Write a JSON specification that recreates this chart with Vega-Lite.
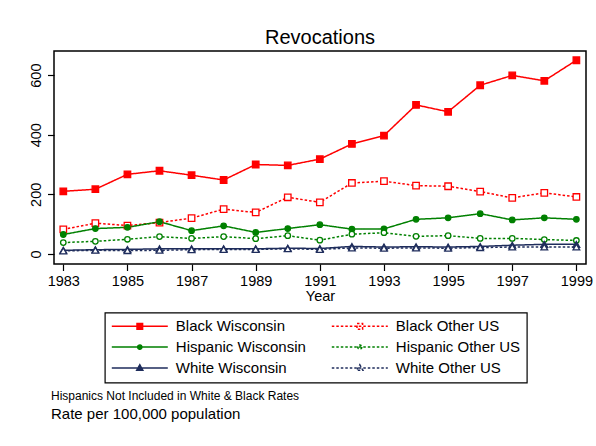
{
  "$schema": "https://vega.github.io/schema/vega-lite/v6.json",
  "background": "white",
  "padding": {"left": 27, "top": 27, "right": 5, "bottom": 5},
  "spacing": 86,
  "datasets": {
    "rates": [
      {"year": 1983, "series": "Black Wisconsin", "race": "Black", "value": 210},
      {"year": 1984, "series": "Black Wisconsin", "race": "Black", "value": 217},
      {"year": 1985, "series": "Black Wisconsin", "race": "Black", "value": 267},
      {"year": 1986, "series": "Black Wisconsin", "race": "Black", "value": 279},
      {"year": 1987, "series": "Black Wisconsin", "race": "Black", "value": 264},
      {"year": 1988, "series": "Black Wisconsin", "race": "Black", "value": 248},
      {"year": 1989, "series": "Black Wisconsin", "race": "Black", "value": 300},
      {"year": 1990, "series": "Black Wisconsin", "race": "Black", "value": 297},
      {"year": 1991, "series": "Black Wisconsin", "race": "Black", "value": 318},
      {"year": 1992, "series": "Black Wisconsin", "race": "Black", "value": 369},
      {"year": 1993, "series": "Black Wisconsin", "race": "Black", "value": 397},
      {"year": 1994, "series": "Black Wisconsin", "race": "Black", "value": 500},
      {"year": 1995, "series": "Black Wisconsin", "race": "Black", "value": 477},
      {"year": 1996, "series": "Black Wisconsin", "race": "Black", "value": 566},
      {"year": 1997, "series": "Black Wisconsin", "race": "Black", "value": 599},
      {"year": 1998, "series": "Black Wisconsin", "race": "Black", "value": 581},
      {"year": 1999, "series": "Black Wisconsin", "race": "Black", "value": 650},
      {"year": 1983, "series": "Black Other US", "race": "Black", "value": 82},
      {"year": 1984, "series": "Black Other US", "race": "Black", "value": 103},
      {"year": 1985, "series": "Black Other US", "race": "Black", "value": 95},
      {"year": 1986, "series": "Black Other US", "race": "Black", "value": 105},
      {"year": 1987, "series": "Black Other US", "race": "Black", "value": 120},
      {"year": 1988, "series": "Black Other US", "race": "Black", "value": 150},
      {"year": 1989, "series": "Black Other US", "race": "Black", "value": 139},
      {"year": 1990, "series": "Black Other US", "race": "Black", "value": 190},
      {"year": 1991, "series": "Black Other US", "race": "Black", "value": 173},
      {"year": 1992, "series": "Black Other US", "race": "Black", "value": 238},
      {"year": 1993, "series": "Black Other US", "race": "Black", "value": 244},
      {"year": 1994, "series": "Black Other US", "race": "Black", "value": 229},
      {"year": 1995, "series": "Black Other US", "race": "Black", "value": 227},
      {"year": 1996, "series": "Black Other US", "race": "Black", "value": 209},
      {"year": 1997, "series": "Black Other US", "race": "Black", "value": 188},
      {"year": 1998, "series": "Black Other US", "race": "Black", "value": 205},
      {"year": 1999, "series": "Black Other US", "race": "Black", "value": 191},
      {"year": 1983, "series": "Hispanic Wisconsin", "race": "Hispanic", "value": 65},
      {"year": 1984, "series": "Hispanic Wisconsin", "race": "Hispanic", "value": 85},
      {"year": 1985, "series": "Hispanic Wisconsin", "race": "Hispanic", "value": 89},
      {"year": 1986, "series": "Hispanic Wisconsin", "race": "Hispanic", "value": 108},
      {"year": 1987, "series": "Hispanic Wisconsin", "race": "Hispanic", "value": 78},
      {"year": 1988, "series": "Hispanic Wisconsin", "race": "Hispanic", "value": 94},
      {"year": 1989, "series": "Hispanic Wisconsin", "race": "Hispanic", "value": 72},
      {"year": 1990, "series": "Hispanic Wisconsin", "race": "Hispanic", "value": 85},
      {"year": 1991, "series": "Hispanic Wisconsin", "race": "Hispanic", "value": 98},
      {"year": 1992, "series": "Hispanic Wisconsin", "race": "Hispanic", "value": 83},
      {"year": 1993, "series": "Hispanic Wisconsin", "race": "Hispanic", "value": 84},
      {"year": 1994, "series": "Hispanic Wisconsin", "race": "Hispanic", "value": 116},
      {"year": 1995, "series": "Hispanic Wisconsin", "race": "Hispanic", "value": 121},
      {"year": 1996, "series": "Hispanic Wisconsin", "race": "Hispanic", "value": 135},
      {"year": 1997, "series": "Hispanic Wisconsin", "race": "Hispanic", "value": 114},
      {"year": 1998, "series": "Hispanic Wisconsin", "race": "Hispanic", "value": 121},
      {"year": 1999, "series": "Hispanic Wisconsin", "race": "Hispanic", "value": 116},
      {"year": 1983, "series": "Hispanic Other US", "race": "Hispanic", "value": 38},
      {"year": 1984, "series": "Hispanic Other US", "race": "Hispanic", "value": 42},
      {"year": 1985, "series": "Hispanic Other US", "race": "Hispanic", "value": 49},
      {"year": 1986, "series": "Hispanic Other US", "race": "Hispanic", "value": 58},
      {"year": 1987, "series": "Hispanic Other US", "race": "Hispanic", "value": 52},
      {"year": 1988, "series": "Hispanic Other US", "race": "Hispanic", "value": 58},
      {"year": 1989, "series": "Hispanic Other US", "race": "Hispanic", "value": 51},
      {"year": 1990, "series": "Hispanic Other US", "race": "Hispanic", "value": 61},
      {"year": 1991, "series": "Hispanic Other US", "race": "Hispanic", "value": 46},
      {"year": 1992, "series": "Hispanic Other US", "race": "Hispanic", "value": 66},
      {"year": 1993, "series": "Hispanic Other US", "race": "Hispanic", "value": 71},
      {"year": 1994, "series": "Hispanic Other US", "race": "Hispanic", "value": 59},
      {"year": 1995, "series": "Hispanic Other US", "race": "Hispanic", "value": 61},
      {"year": 1996, "series": "Hispanic Other US", "race": "Hispanic", "value": 52},
      {"year": 1997, "series": "Hispanic Other US", "race": "Hispanic", "value": 52},
      {"year": 1998, "series": "Hispanic Other US", "race": "Hispanic", "value": 48},
      {"year": 1999, "series": "Hispanic Other US", "race": "Hispanic", "value": 45},
      {"year": 1983, "series": "White Wisconsin", "race": "White", "value": 12},
      {"year": 1984, "series": "White Wisconsin", "race": "White", "value": 14},
      {"year": 1985, "series": "White Wisconsin", "race": "White", "value": 15},
      {"year": 1986, "series": "White Wisconsin", "race": "White", "value": 17},
      {"year": 1987, "series": "White Wisconsin", "race": "White", "value": 17},
      {"year": 1988, "series": "White Wisconsin", "race": "White", "value": 17},
      {"year": 1989, "series": "White Wisconsin", "race": "White", "value": 17},
      {"year": 1990, "series": "White Wisconsin", "race": "White", "value": 19},
      {"year": 1991, "series": "White Wisconsin", "race": "White", "value": 18},
      {"year": 1992, "series": "White Wisconsin", "race": "White", "value": 25},
      {"year": 1993, "series": "White Wisconsin", "race": "White", "value": 23},
      {"year": 1994, "series": "White Wisconsin", "race": "White", "value": 24},
      {"year": 1995, "series": "White Wisconsin", "race": "White", "value": 23},
      {"year": 1996, "series": "White Wisconsin", "race": "White", "value": 25},
      {"year": 1997, "series": "White Wisconsin", "race": "White", "value": 29},
      {"year": 1998, "series": "White Wisconsin", "race": "White", "value": 32},
      {"year": 1999, "series": "White Wisconsin", "race": "White", "value": 32},
      {"year": 1983, "series": "White Other US", "race": "White", "value": 10},
      {"year": 1984, "series": "White Other US", "race": "White", "value": 12},
      {"year": 1985, "series": "White Other US", "race": "White", "value": 11},
      {"year": 1986, "series": "White Other US", "race": "White", "value": 12},
      {"year": 1987, "series": "White Other US", "race": "White", "value": 14},
      {"year": 1988, "series": "White Other US", "race": "White", "value": 15},
      {"year": 1989, "series": "White Other US", "race": "White", "value": 15},
      {"year": 1990, "series": "White Other US", "race": "White", "value": 17},
      {"year": 1991, "series": "White Other US", "race": "White", "value": 15},
      {"year": 1992, "series": "White Other US", "race": "White", "value": 20},
      {"year": 1993, "series": "White Other US", "race": "White", "value": 19},
      {"year": 1994, "series": "White Other US", "race": "White", "value": 20},
      {"year": 1995, "series": "White Other US", "race": "White", "value": 19},
      {"year": 1996, "series": "White Other US", "race": "White", "value": 21},
      {"year": 1997, "series": "White Other US", "race": "White", "value": 23},
      {"year": 1998, "series": "White Other US", "race": "White", "value": 23},
      {"year": 1999, "series": "White Other US", "race": "White", "value": 23}
    ]
  },
  "vconcat": [
    {
      "width": 532,
      "height": 213,
      "title": {"text": "Revocations", "fontSize": 20, "font": "Liberation Sans", "fontWeight": "normal", "color": "black", "offset": 3, "anchor": "middle", "frame": "group"},
      "data": {"name": "rates"},
      "encoding": {
        "x": {
          "field": "year", "type": "quantitative",
          "scale": {"domain": [1982.71, 1999.3], "nice": false, "zero": false},
          "axis": {"values": [1983, 1985, 1987, 1989, 1991, 1993, 1995, 1997, 1999], "format": "d", "title": "Year", "labelFlush": false, "labelPadding": 4, "titlePadding": 1}
        },
        "y": {
          "field": "value", "type": "quantitative",
          "scale": {"domain": [-34, 681], "nice": false, "zero": false},
          "axis": {"values": [0, 200, 400, 600], "title": null, "labelAngle": 270, "labelAlign": "center", "labelBaseline": "bottom", "labelPadding": 4, "labelFlush": false}
        }
      },
      "layer": [
        {
          "mark": {"type": "line", "strokeWidth": 1.5},
          "encoding": {
            "color": {"field": "series", "type": "nominal", "legend": {"title": null},
              "scale": {"domain": ["Black Wisconsin", "Hispanic Wisconsin", "White Wisconsin", "Black Other US", "Hispanic Other US", "White Other US"],
                        "range": ["#ff0000", "#008000", "#1f2d5c", "#ff0000", "#008000", "#1f2d5c"]}},
            "strokeDash": {"field": "series", "type": "nominal", "legend": {"title": null},
              "scale": {"domain": ["Black Wisconsin", "Hispanic Wisconsin", "White Wisconsin", "Black Other US", "Hispanic Other US", "White Other US"],
                        "range": [[1, 0], [1, 0], [1, 0], [2.5, 2], [2.5, 2], [2.5, 2]]}}
          }
        },
        {
          "transform": [{"filter": {"field": "race", "equal": "Black"}}],
          "mark": {"type": "point", "shape": "square", "size": 42, "strokeWidth": 1.3, "opacity": 1},
          "encoding": {
            "color": {"field": "series", "type": "nominal", "legend": {"title": null}},
            "fill": {"field": "series", "type": "nominal", "legend": {"title": null},
              "scale": {"domain": ["Black Wisconsin", "Hispanic Wisconsin", "White Wisconsin", "Black Other US", "Hispanic Other US", "White Other US"],
                        "range": ["#ff0000", "#008000", "#1f2d5c", "#ffffff", "#ffffff", "#ffffff"]}}
          }
        },
        {
          "transform": [{"filter": {"field": "race", "equal": "Hispanic"}}],
          "mark": {"type": "point", "shape": "circle", "size": 30, "strokeWidth": 1.3, "opacity": 1},
          "encoding": {
            "color": {"field": "series", "type": "nominal", "legend": {"title": null}},
            "fill": {"field": "series", "type": "nominal", "legend": {"title": null}}
          }
        },
        {
          "transform": [{"filter": {"field": "race", "equal": "White"}}],
          "mark": {"type": "point", "shape": "triangle-up", "size": 45, "strokeWidth": 1.3, "opacity": 1},
          "encoding": {
            "color": {"field": "series", "type": "nominal", "legend": {"title": null}},
            "fill": {"field": "series", "type": "nominal", "legend": {"title": null}}
          }
        },
        {
          "transform": [{"filter": "datum.value < -1000"}],
          "mark": {"type": "point", "size": 3136, "strokeWidth": 1.5, "opacity": 1},
          "encoding": {
            "color": {"field": "series", "type": "nominal", "legend": {"title": null}},
            "fill": {"field": "series", "type": "nominal", "legend": {"title": null}},
            "strokeDash": {"field": "series", "type": "nominal", "legend": {"title": null}},
            "shape": {"field": "series", "type": "nominal", "legend": {"title": null},
              "scale": {"domain": ["Black Wisconsin", "Hispanic Wisconsin", "White Wisconsin", "Black Other US", "Hispanic Other US", "White Other US"],
                        "range": [
                          "M-1,0H1M-0.1,-0.1H0.1V0.1H-0.1Z",
                          "M-1,0H1M0.075,0A0.075,0.075,0,1,1,-0.075,0A0.075,0.075,0,1,1,0.075,0Z",
                          "M-1,0H1M0,-0.12L0.11,0.08H-0.11Z",
                          "M-1,0H1M-0.1,-0.1H0.1V0.1H-0.1Z",
                          "M-1,0H1M0.075,0A0.075,0.075,0,1,1,-0.075,0A0.075,0.075,0,1,1,0.075,0Z",
                          "M-1,0H1M0,-0.12L0.11,0.08H-0.11Z"
                        ]}}
          }
        }
      ]
    },
    {
      "width": 532,
      "height": 1,
      "view": {"stroke": null},
      "data": {"values": []},
      "mark": "point",
      "title": {
        "text": "Hispanics Not Included in White & Black Rates",
        "subtitle": "Rate per 100,000 population",
        "anchor": "start", "frame": "group",
        "font": "Liberation Sans", "fontSize": 12, "fontWeight": "normal", "color": "black",
        "subtitleFont": "Liberation Sans", "subtitleFontSize": 15, "subtitleColor": "black", "subtitlePadding": 4,
        "offset": 0, "dx": -3
      }
    }
  ],
  "config": {
    "font": "Liberation Sans",
    "view": {"stroke": "black", "strokeWidth": 1.5},
    "axis": {
      "domain": false, "grid": false,
      "labelFont": "Liberation Sans", "labelFontSize": 14.5, "labelColor": "black",
      "titleFont": "Liberation Sans", "titleFontSize": 14.5, "titleFontWeight": "normal", "titleColor": "black",
      "tickColor": "black", "tickSize": 6.5, "tickWidth": 1.2
    },
    "legend": {
      "orient": "none", "legendX": 50.8, "legendY": 261.6,
      "columns": 2, "columnPadding": 24, "rowPadding": 5, "padding": 6,
      "strokeColor": "black", "strokeWidth": 1.2,
      "labelFont": "Liberation Sans", "labelFontSize": 15, "labelColor": "black", "labelOffset": 7, "labelLimit": 300,
      "symbolSize": 3136, "symbolStrokeWidth": 1.5, "clipHeight": 15
    }
  }
}
